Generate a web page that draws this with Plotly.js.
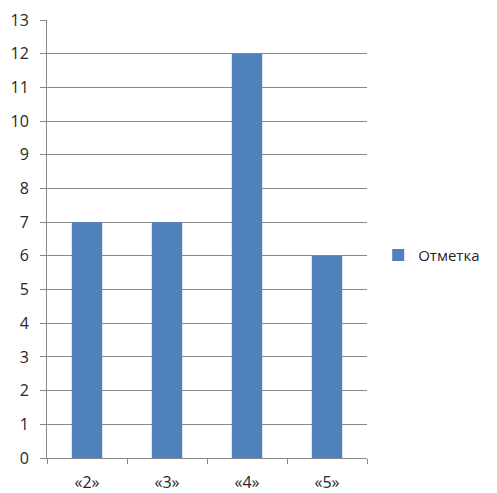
<!DOCTYPE html>
<html><head><meta charset="utf-8">
<script src="https://cdn.plot.ly/plotly-3.0.1.min.js"></script>
<style>body{margin:0;background:#fff}#c{width:497px;height:493px}</style>
</head><body><div id="c"></div>
<script>
const categories = ["«2»", "«3»", "«4»", "«5»"];
const values = [7, 7, 12, 6];
const seriesName = "Отметка";

Plotly.newPlot('c', [{
  type: 'bar', x: categories, y: values, name: seriesName,
  marker: {color: '#4F81BD', line: {width: 0}}, showlegend: true
}], {
  width: 497, height: 493,
  margin: {l: 47, r: 127, t: 20, b: 35, pad: 0},
  paper_bgcolor: '#fff', plot_bgcolor: '#fff',
  bargap: 0.62,
  font: {family: 'Open Sans, sans-serif', size: 16, color: '#262626'},
  xaxis: {type: 'category', showline: true, linecolor: '#888', linewidth: 1,
    ticks: 'outside', tickson: 'boundaries', ticklen: 5, tickcolor: '#888',
    ticklabelstandoff: 10,
    showgrid: false, zeroline: false, fixedrange: true, tickfont: {size: 16}},
  yaxis: {range: [0, 13], dtick: 1, showline: true, linecolor: '#888', linewidth: 1,
    ticks: 'outside', ticklen: 6, tickcolor: '#888', showgrid: true, gridcolor: '#888',
    ticklabelstandoff: 8,
    gridwidth: 1, zeroline: false, fixedrange: true, tickfont: {size: 16}},
  showlegend: true,
  legend: {x: 1.035, xanchor: 'left', y: 0.463, yanchor: 'middle', font: {size: 15},
    bgcolor: 'rgba(0,0,0,0)'}
}, {displayModeBar: false, staticPlot: true});
</script></body></html>
